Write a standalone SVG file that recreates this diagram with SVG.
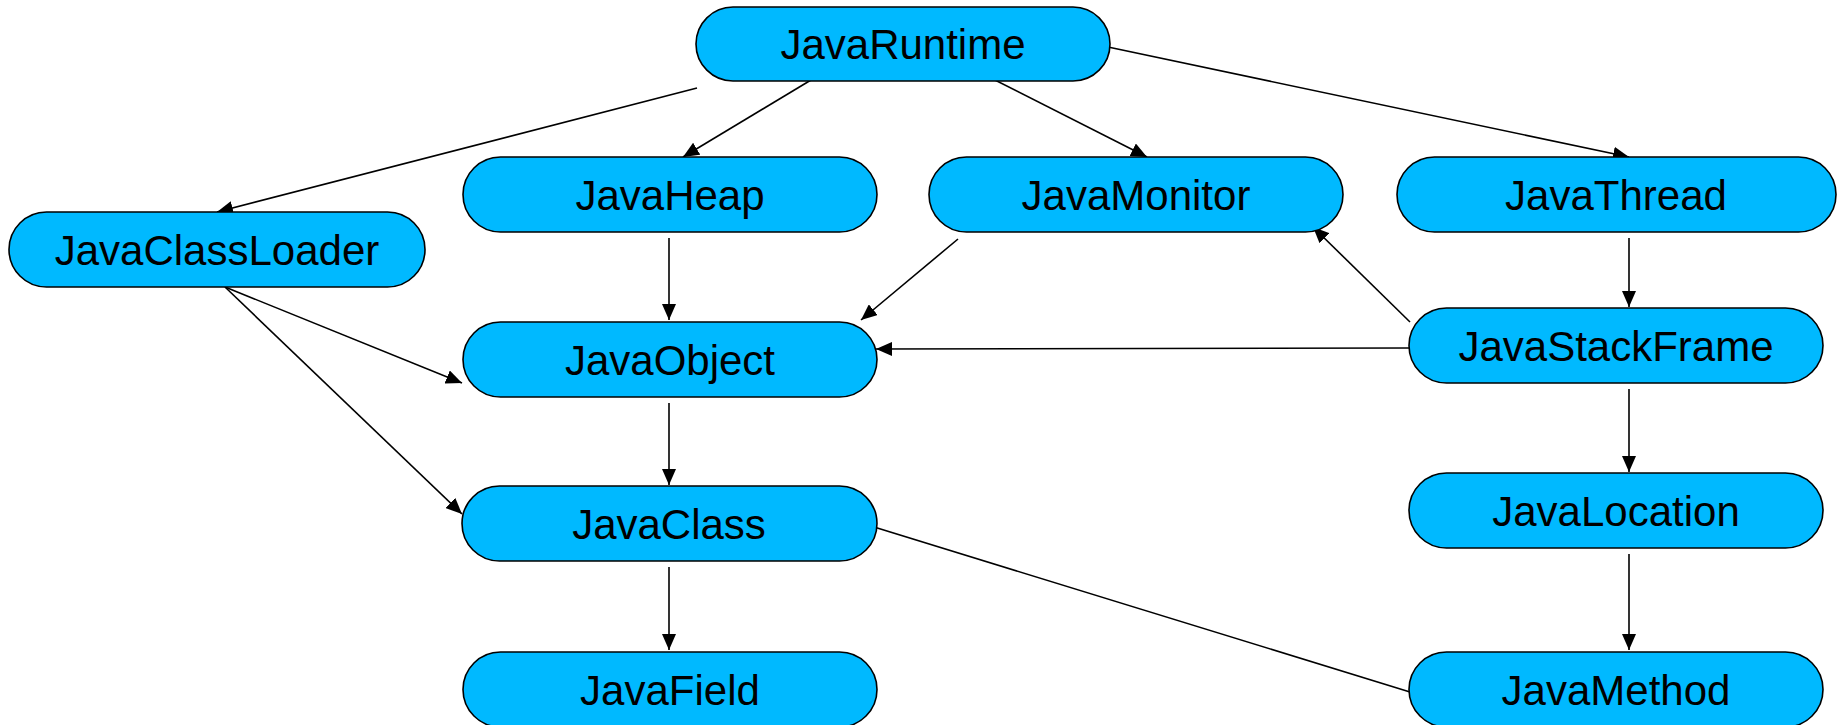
<svg xmlns="http://www.w3.org/2000/svg" width="1839" height="725" viewBox="0 0 1839 725">
<defs>
<marker id="arr" markerUnits="userSpaceOnUse" markerWidth="16" markerHeight="14" refX="16" refY="7" orient="auto">
<path d="M0,0 L16,7 L0,14 z" fill="#000"/>
</marker>
<style>
.n rect{fill:#00B9FF;stroke:#000;stroke-width:1.6}
.n text{font-family:"Liberation Sans",Arial,sans-serif;font-size:42px;fill:#000;text-anchor:middle}
#edges line{stroke:#000;stroke-width:1.6;fill:none}
#edges .a{marker-end:url(#arr)}
</style>
</defs>
<rect width="1839" height="725" fill="#fff"/>
<g id="edges">
<line class="a" x1="697" y1="88" x2="217" y2="212"/>
<line class="a" x1="821" y1="74" x2="683" y2="157"/>
<line class="a" x1="983" y1="74" x2="1147" y2="157"/>
<line class="a" x1="1108" y1="47" x2="1629" y2="157"/>
<line class="a" x1="669" y1="238" x2="669" y2="320"/>
<line class="a" x1="958" y1="239" x2="861" y2="320"/>
<line class="a" x1="225" y1="287" x2="462" y2="383"/>
<line class="a" x1="225" y1="287" x2="462" y2="514"/>
<line class="a" x1="1410" y1="348" x2="876" y2="349"/>
<line class="a" x1="1410" y1="322" x2="1313" y2="227"/>
<line class="a" x1="1629" y1="238" x2="1629" y2="307"/>
<line class="a" x1="669" y1="403" x2="669" y2="485"/>
<line class="a" x1="669" y1="567" x2="669" y2="650"/>
<line class="a" x1="1629" y1="389" x2="1629" y2="472"/>
<line class="a" x1="1629" y1="554" x2="1629" y2="650"/>
<line x1="874" y1="527" x2="1410" y2="692"/>
</g>
<g id="JavaRuntime" class="n"><rect x="696" y="7" width="414" height="74" rx="37"/><text x="903" y="59">JavaRuntime</text></g>
<g id="JavaClassLoader" class="n"><rect x="9" y="212" width="416" height="75" rx="37.5"/><text x="217" y="264.5">JavaClassLoader</text></g>
<g id="JavaHeap" class="n"><rect x="463" y="157" width="414" height="75" rx="37.5"/><text x="670" y="209.5">JavaHeap</text></g>
<g id="JavaMonitor" class="n"><rect x="929" y="157" width="414" height="75" rx="37.5"/><text x="1136" y="209.5">JavaMonitor</text></g>
<g id="JavaThread" class="n"><rect x="1397" y="157" width="439" height="75" rx="37.5"/><text x="1616" y="209.5">JavaThread</text></g>
<g id="JavaObject" class="n"><rect x="463" y="322" width="414" height="75" rx="37.5"/><text x="670" y="374.5">JavaObject</text></g>
<g id="JavaStackFrame" class="n"><rect x="1409" y="308" width="414" height="75" rx="37.5"/><text x="1616" y="360.5">JavaStackFrame</text></g>
<g id="JavaClass" class="n"><rect x="462" y="486" width="415" height="75" rx="37.5"/><text x="669" y="538.5">JavaClass</text></g>
<g id="JavaLocation" class="n"><rect x="1409" y="473" width="414" height="75" rx="37.5"/><text x="1616" y="525.5">JavaLocation</text></g>
<g id="JavaField" class="n"><rect x="463" y="652" width="414" height="75" rx="37.5"/><text x="670" y="704.5">JavaField</text></g>
<g id="JavaMethod" class="n"><rect x="1409" y="652" width="414" height="75" rx="37.5"/><text x="1616" y="704.5">JavaMethod</text></g>
</svg>
